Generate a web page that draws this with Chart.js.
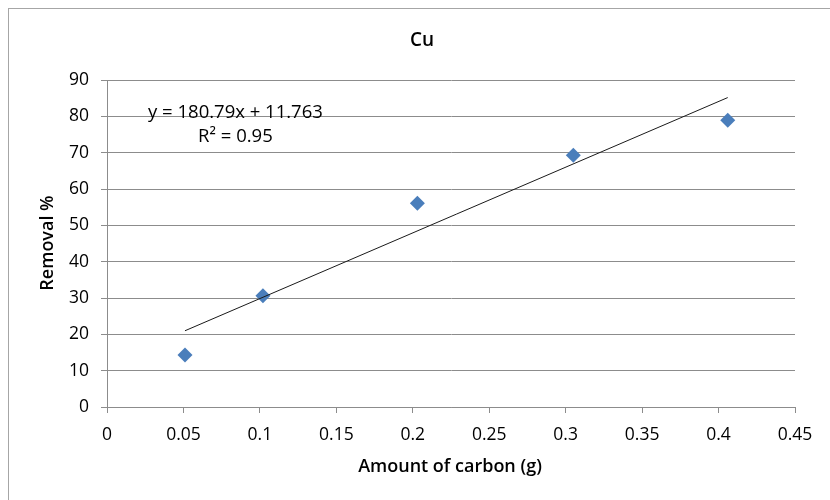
<!DOCTYPE html>
<html>
<head>
<meta charset="utf-8">
<script src="https://cdn.jsdelivr.net/npm/chart.js@4.4.1/dist/chart.umd.min.js"></script>
<style>
  html, body { margin: 0; padding: 0; background: #fff; }
  #wrap { width: 830px; height: 500px; position: relative; }
</style>
</head>
<body>
<div id="wrap"><canvas id="cuChart" width="830" height="500"></canvas></div>
<script>
// Data
const carbon = [0.051, 0.102, 0.203, 0.305, 0.406];   // Amount of carbon (g)
const removal = [14.3, 30.6, 56.1, 69.3, 78.9];       // Removal %
const xTicks = ['0', '0.05', '0.1', '0.15', '0.2', '0.25', '0.3', '0.35', '0.4', '0.45'];
const yTicks = ['0', '10', '20', '30', '40', '50', '60', '70', '80', '90'];
const trendSlope = 180.79;
const trendIntercept = 11.763;
const trendText = ['y = 180.79x + 11.763', 'R\u00B2 = 0.95'];

const FONT = "'Open Sans', 'DejaVu Sans', sans-serif";
const GRID = '#8c8c8c';

const trendStart = carbon[0];
const trendEnd = carbon[carbon.length - 1];

// Frame, titles and trendline label
const decorations = {
    id: 'decorations',
    beforeDraw(chart) {
        const c = chart.ctx;
        c.save();
        c.fillStyle = '#fff';
        c.fillRect(0, 0, chart.width, chart.height);
        c.strokeStyle = '#a6a6a6';
        c.lineWidth = 1;
        c.strokeRect(8.5, 8.5, chart.width + 20, chart.height + 20);
        c.restore();
    },
    afterDraw(chart) {
        const c = chart.ctx;
        const xs = chart.scales.x, ys = chart.scales.y;
        c.save();
        c.fillStyle = '#000';
        c.textAlign = 'center';
        c.textBaseline = 'middle';

        c.font = '600 19px ' + FONT;
        c.fillText('Cu', 422, 41);

        c.font = '600 18px ' + FONT;
        c.fillText('Amount of carbon (g)', 450, 467);

        c.save();
        c.translate(48, 243);
        c.rotate(-Math.PI / 2);
        c.fillText('Removal %', 0, 0);
        c.restore();

        c.font = '18.5px ' + FONT;
        const lx = xs.getPixelForValue(0.084);
        c.fillText(trendText[0], lx, ys.getPixelForValue(80.9));
        c.fillText(trendText[1], lx, ys.getPixelForValue(74.3));
        c.restore();
    }
};

const ctx = document.getElementById('cuChart').getContext('2d');
const cuChart = new Chart(ctx, {
    type: 'scatter',
    data: {
        datasets: [
            {
                label: 'Cu',
                data: carbon.map((x, i) => ({ x: x, y: removal[i] })),
                pointStyle: 'rectRot',
                pointRadius: 7.5,
                pointHoverRadius: 7.5,
                backgroundColor: '#4a7ebb',
                borderColor: '#4a7ebb',
                borderWidth: 0,
                order: 1
            },
            {
                label: 'Linear (Cu)',
                data: [
                    { x: trendStart, y: trendSlope * trendStart + trendIntercept },
                    { x: trendEnd, y: trendSlope * trendEnd + trendIntercept }
                ],
                showLine: true,
                pointRadius: 0,
                borderColor: '#1a1a1a',
                borderWidth: 1,
                order: 0
            }
        ]
    },
    options: {
        responsive: false,
        animation: false,
        layout: { padding: { top: 80, right: 35, left: 0, bottom: 0 } },
        plugins: {
            legend: { display: false },
            title: { display: false },
            tooltip: { enabled: false }
        },
        scales: {
            x: {
                type: 'linear',
                min: 0,
                max: 0.45,
                afterFit: s => { s.height = 93; },
                afterBuildTicks: s => { s.ticks = xTicks.map(t => ({ value: parseFloat(t) })); },
                ticks: {
                    padding: 12,
                    color: '#000',
                    font: { family: FONT, size: 17.5 },
                    callback: (v, i) => xTicks[i]
                },
                grid: { drawOnChartArea: false, drawTicks: true, tickLength: 6, color: GRID },
                border: { color: GRID }
            },
            y: {
                type: 'linear',
                min: 0,
                max: 90,
                afterFit: s => { s.width = 107; },
                afterBuildTicks: s => { s.ticks = yTicks.map(t => ({ value: parseFloat(t) })); },
                ticks: {
                    padding: 12,
                    color: '#000',
                    font: { family: FONT, size: 17.5 },
                    callback: (v, i) => yTicks[i]
                },
                grid: { color: GRID, tickLength: 6 },
                border: { color: GRID }
            }
        }
    },
    plugins: [decorations]
});
</script>
</body>
</html>
